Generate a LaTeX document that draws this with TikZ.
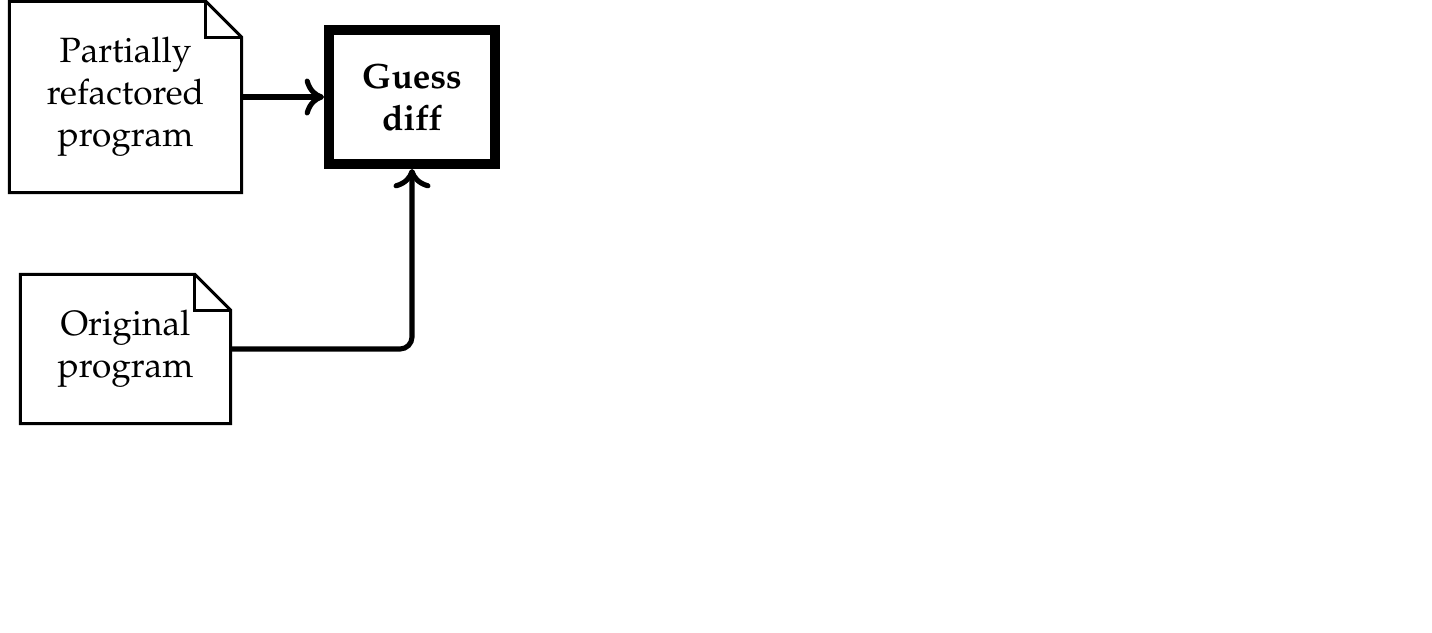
\documentclass[tikz,border=0pt]{standalone}
\usepackage[T1]{fontenc}
\usepackage{mathpazo}
\usepackage{tikz}
\usetikzlibrary{arrows.meta,calc}
\newlength{\foldsize}
\setlength{\foldsize}{0.36cm}

\begin{document}
\begin{tikzpicture}[
                font=\fontsize{10}{12}\selectfont,
                document/.style={rectangle, align=center, inner sep=0pt},
                docline/.style={draw, line width=0.85pt, line join=miter},
                process/.style={rectangle, draw, line width=2.85pt, align=center,
                        font=\fontsize{10}{12}\selectfont\bfseries,
                        minimum width=1.66cm, minimum height=1.34cm, inner sep=2pt},
                edge/.style={draw, line width=1.45pt, rounded corners=0.12cm,
                        -{Computer Modern Rightarrow[round, length=5.5pt, width=10.5pt]}},
            ]
            \useasboundingbox (0,0) rectangle (14.32,-6.32);

            % ── Input documents ───────────────────────────────────
            \node[document, minimum width=2.31cm, minimum height=1.90cm] (partial) at (1.255,-0.97)
                {Partially\\refactored\\program};
            \node[document, minimum width=2.09cm, minimum height=1.48cm] (orig) at (1.255,-3.49)
                {Original\\program};
            % outline with folded corner
            \foreach \n in {partial,orig} {
                \draw[docline] (\n.south west) -- (\n.north west)
                    -- ([xshift=-\foldsize]\n.north east) -- ([yshift=-\foldsize]\n.north east)
                    -- (\n.south east) -- cycle;
                \draw[docline] ([xshift=-\foldsize]\n.north east) |- ([yshift=-\foldsize]\n.north east);
            }

            % ── Guess step ────────────────────────────────────────
            \node[process] (guess) at (4.12,-0.97) {Guess\\diff};

            % ── Connectors ────────────────────────────────────────
            \draw[edge] (partial) -- (guess);
            \draw[edge] (orig) -| (guess);
        \end{tikzpicture}
\end{document}
